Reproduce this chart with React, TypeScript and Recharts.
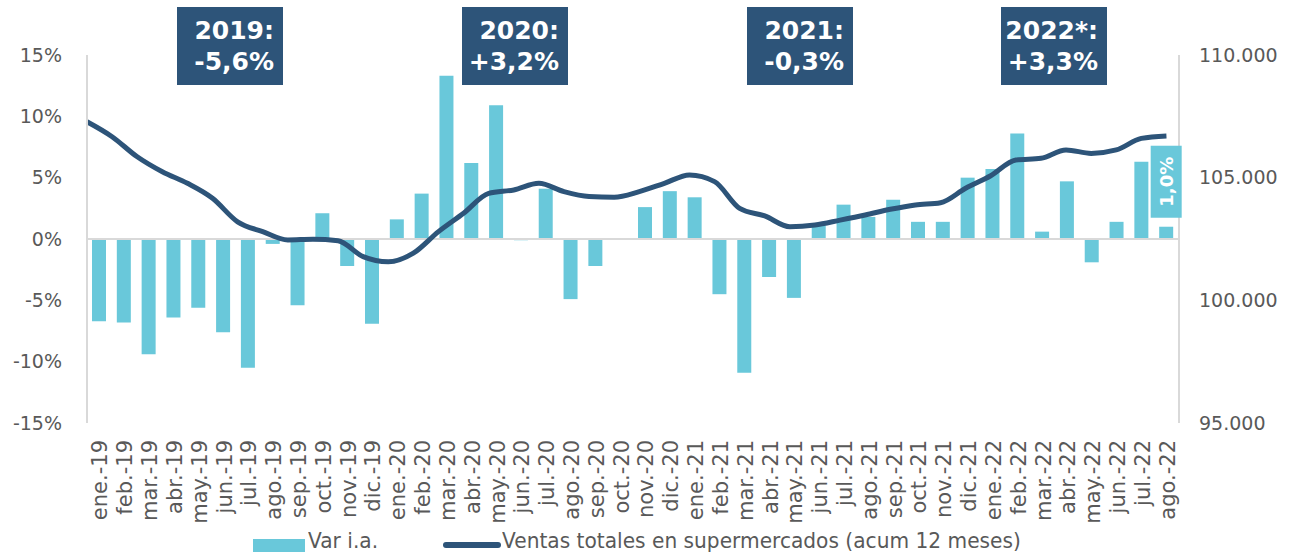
import React from 'react';
import { ComposedChart, Bar, Line, XAxis, YAxis, ReferenceLine, LabelList } from 'recharts';

// months on the category axis
const months = [
    'ene.-19', 'feb.-19', 'mar.-19', 'abr.-19', 'may.-19', 'jun.-19', 'jul.-19', 'ago.-19', 'sep.-19', 'oct.-19', 'nov.-19', 'dic.-19',
    'ene.-20', 'feb.-20', 'mar.-20', 'abr.-20', 'may.-20', 'jun.-20', 'jul.-20', 'ago.-20', 'sep.-20', 'oct.-20', 'nov.-20', 'dic.-20',
    'ene.-21', 'feb.-21', 'mar.-21', 'abr.-21', 'may.-21', 'jun.-21', 'jul.-21', 'ago.-21', 'sep.-21', 'oct.-21', 'nov.-21', 'dic.-21',
    'ene.-22', 'feb.-22', 'mar.-22', 'abr.-22', 'may.-22', 'jun.-22', 'jul.-22', 'ago.-22',
];

// Var i.a. (%)
const varIa = [
    -6.7, -6.8, -9.4, -6.4, -5.6, -7.6, -10.5, -0.4, -5.4, 2.1, -2.2, -6.9,
    1.6, 3.7, 13.3, 6.2, 10.9, -0.1, 4.1, -4.9, -2.2, 0, 2.6, 3.9,
    3.4, -4.5, -10.9, -3.1, -4.8, 1.1, 2.8, 1.8, 3.2, 1.4, 1.4, 5.0,
    5.7, 8.6, 0.6, 4.7, -1.9, 1.4, 6.3, 1.0,
];

// Ventas totales en supermercados (acum 12 meses)
const ventas = [
    107280, 106670, 105850, 105240, 104770, 104160, 103200, 102800, 102460, 102490, 102430, 101780,
    101570, 101920, 102800, 103550, 104360, 104500, 104770, 104430, 104230, 104200, 104430, 104770,
    105110, 104840, 103750, 103440, 103000, 103070, 103270, 103480, 103710, 103890, 103980, 104570,
    105080, 105720, 105790, 106130, 105990, 106130, 106600, 106700,
];

const leftTicks = [-15, -10, -5, 0, 5, 10, 15];
const rightTicks = [95000, 100000, 105000, 110000];

const yearTitles = ['2019:', '2020:', '2021:', '2022*:'];
const yearValues = ['-5,6%', '+3,2%', '-0,3%', '+3,3%'];
const yearBoxLeft = [177, 462, 747, 1001];

const BAR = '#69C8DA';
const NAVY = '#2D5479';
const GREY = '#595959';
const FONT = 'Verdana, "DejaVu Sans", sans-serif';

// only the last month gets the boxed value label
const data = months.map((m, i) => ({
    month: m,
    idx: i,
    varIa: varIa[i],
    ventas: ventas[i],
    last: i === months.length - 1 ? varIa[i] : null,
}));

const fmtThousands = (v: number) => String(v).replace(/\B(?=(\d{3})+(?!\d))/g, '.');

const MonthTick = ({ x, y, payload }: any) => (
    <text
        x={0}
        y={0}
        transform={`translate(${x + 8},${y + 15}) rotate(-90)`}
        textAnchor="end"
        fill={GREY}
        fontSize={21}
        fontFamily={FONT}
    >
        {payload.value}
    </text>
);

const LastLabel = (props: any) => {
    const { x, y, width, value } = props;
    if (value === null || value === undefined) return null;
    const cx = Number(x) + Number(width) / 2;
    const top = Number(y) - 81;
    const cy = top + 36;
    return (
        <g>
            <rect x={cx - 15.5} y={top} width={31} height={72} fill={BAR} />
            <text
                x={cx}
                y={cy}
                transform={`rotate(-90, ${cx}, ${cy})`}
                textAnchor="middle"
                dominantBaseline="central"
                fill="#fff"
                fontWeight="bold"
                fontSize={18}
                fontFamily={FONT}
            >
                {Number(value).toFixed(1).replace('.', ',') + '%'}
            </text>
        </g>
    );
};

const legendText: React.CSSProperties = {
    position: 'absolute',
    top: 531,
    fontSize: 21,
    lineHeight: '21px',
    color: GREY,
    whiteSpace: 'nowrap',
    transform: 'scaleX(0.96)',
    transformOrigin: 'left center',
};

export default function App() {
    return (
        <div style={{ position: 'absolute', left: 0, top: 0, width: 1289, height: 556, background: '#fff', fontFamily: FONT, overflow: 'hidden' }}>
            <ComposedChart width={1289} height={556} data={data} margin={{ top: 55, right: 10, bottom: 0, left: 7 }}>
                <XAxis
                    xAxisId="cat"
                    dataKey="month"
                    interval={0}
                    axisLine={false}
                    tickLine={false}
                    tickSize={0}
                    height={133}
                    tick={<MonthTick />}
                />
                <XAxis xAxisId="idx" dataKey="idx" type="number" domain={[0, 43.5]} hide height={0} />
                <YAxis
                    yAxisId="left"
                    domain={[-15, 15]}
                    ticks={leftTicks}
                    width={80}
                    tickSize={0}
                    tickMargin={25}
                    axisLine={{ stroke: '#D9D9D9', strokeWidth: 2 }}
                    tickLine={false}
                    tick={{ fill: GREY, fontSize: 19, fontFamily: FONT }}
                    tickFormatter={(v) => `${v}%`}
                />
                <YAxis
                    yAxisId="right"
                    orientation="right"
                    domain={[95000, 110000]}
                    ticks={rightTicks}
                    width={100}
                    tickSize={0}
                    tickMargin={20}
                    axisLine={{ stroke: '#D9D9D9', strokeWidth: 2 }}
                    tickLine={false}
                    tick={{ fill: GREY, fontSize: 19, fontFamily: FONT, textAnchor: 'start' }}
                    tickFormatter={fmtThousands}
                />
                <ReferenceLine xAxisId="cat" yAxisId="left" y={0} stroke="#D9D9D9" strokeWidth={2} />
                <Bar xAxisId="cat" yAxisId="left" dataKey="varIa" fill={BAR} barSize={14} isAnimationActive={false}>
                    <LabelList dataKey="last" content={<LastLabel />} />
                </Bar>
                <Line
                    xAxisId="idx"
                    yAxisId="right"
                    dataKey="ventas"
                    type="monotone"
                    stroke={NAVY}
                    strokeWidth={5}
                    dot={false}
                    activeDot={false}
                    isAnimationActive={false}
                />
            </ComposedChart>

            {yearTitles.map((t, i) => (
                <div
                    key={t}
                    style={{
                        position: 'absolute',
                        left: yearBoxLeft[i],
                        top: 7,
                        width: 106,
                        height: 78,
                        background: NAVY,
                        color: '#fff',
                        fontWeight: 'bold',
                        fontSize: 25,
                        lineHeight: '31px',
                        textAlign: 'right',
                        paddingRight: 9,
                        paddingTop: 8,
                        boxSizing: 'border-box',
                    }}
                >
                    <div>{t}</div>
                    <div>{yearValues[i]}</div>
                </div>
            ))}

            <span style={{ position: 'absolute', left: 253, top: 539, width: 52, height: 13, background: BAR }} />
            <span style={{ ...legendText, left: 308 }}>Var i.a.</span>
            <span style={{ position: 'absolute', left: 443, top: 542, width: 58, height: 6, borderRadius: 3, background: NAVY }} />
            <span style={{ ...legendText, left: 502 }}>Ventas totales en supermercados (acum 12 meses)</span>
        </div>
    );
}
